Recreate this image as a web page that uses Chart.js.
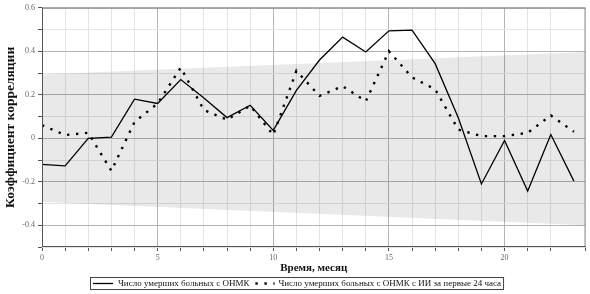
<!DOCTYPE html>
<html>
<head>
<meta charset="utf-8">
<script src="https://cdn.jsdelivr.net/npm/chart.js@4/dist/chart.umd.min.js"></script>
<style>
html,body{margin:0;padding:0;background:#fff;}
#wrap{width:590px;height:294px;position:relative;}
</style>
</head>
<body>
<div id="wrap"><canvas id="c" width="590" height="294"></canvas></div>
<script>
// ---- data ----
const months = [0,1,2,3,4,5,6,7,8,9,10,11,12,13,14,15,16,17,18,19,20,21,22,23];
const deathsStroke = [-0.12,-0.127,0.0,0.005,0.18,0.16,0.27,0.185,0.095,0.152,0.036,0.22,0.36,0.465,0.397,0.494,0.497,0.343,0.094,-0.21,-0.01,-0.243,0.017,-0.197];
const deathsStrokeII24h = [0.06,0.015,0.025,-0.15,0.075,0.16,0.325,0.13,0.085,0.15,0.015,0.31,0.195,0.24,0.17,0.40,0.28,0.225,0.04,0.01,0.01,0.025,0.105,0.03];
const bandX = [0, 23.5];
const bandUpper = [0.293, 0.397];
const bandLower = [-0.293, -0.4];
const seriesLabels = ['Число умерших больных с ОНМК', 'Число умерших больных с ОНМК с ИИ за первые 24 часа'];
const xTitle = 'Время, месяц';
const yTitle = 'Коэффициент корреляции';
const yLabeled = [0.6, 0.4, 0.2, 0, -0.2, -0.4];
const xLabeled = [0, 5, 10, 15, 20];

const toXY = (xs, ys) => xs.map((x, i) => ({x: x, y: ys[i]}));

const SERIF = '"Liberation Serif", "DejaVu Serif", serif';

const decor = {
  id: 'decor',
  afterDatasetsDraw(chart) {
    const ctx = chart.ctx, a = chart.chartArea;
    ctx.save();
    ctx.strokeStyle = '#8c8c8c';
    ctx.lineWidth = 1;
    ctx.beginPath();
    ctx.moveTo(a.left, a.top + 0.5); ctx.lineTo(a.right, a.top + 0.5);
    ctx.moveTo(a.right - 0.5, a.top); ctx.lineTo(a.right - 0.5, a.bottom);
    ctx.stroke();
    ctx.strokeStyle = '#555';
    ctx.beginPath();
    ctx.moveTo(a.left + 0.5, a.top); ctx.lineTo(a.left + 0.5, a.bottom);
    ctx.moveTo(a.left, a.bottom - 0.5); ctx.lineTo(a.right, a.bottom - 0.5);
    ctx.stroke();
    ctx.restore();
  },
  afterDraw(chart) {
    const ctx = chart.ctx, a = chart.chartArea;
    ctx.save();
    ctx.fillStyle = '#111';
    ctx.font = 'bold 11px ' + SERIF;
    ctx.textAlign = 'center';
    ctx.textBaseline = 'middle';
    ctx.fillText(xTitle, (a.left + a.right) / 2, 268);
    ctx.save();
    ctx.font = 'bold 13.5px ' + SERIF;
    ctx.translate(11, (a.top + a.bottom) / 2);
    ctx.rotate(-Math.PI / 2);
    ctx.fillText(yTitle, 0, 0);
    ctx.restore();

    // legend
    const ly = 283.5;
    ctx.font = '9px ' + SERIF;
    ctx.textAlign = 'left';
    ctx.textBaseline = 'middle';
    const x0 = 90;
    let x = x0 + 3;
    ctx.strokeStyle = '#000';
    ctx.lineWidth = 1.3;
    ctx.setLineDash([]);
    ctx.beginPath(); ctx.moveTo(x, ly); ctx.lineTo(x + 20, ly); ctx.stroke();
    x += 25;
    ctx.fillStyle = '#111';
    ctx.fillText(seriesLabels[0], x, ly);
    x += ctx.measureText(seriesLabels[0]).width + 6;
    ctx.fillStyle = '#000';
    ctx.fillRect(x, ly - 1.2, 2.4, 2.4);
    ctx.fillRect(x + 9, ly - 1.2, 2.4, 2.4);
    ctx.fillRect(x + 18, ly - 1.2, 1.2, 2.4);
    x += 23;
    ctx.fillStyle = '#111';
    ctx.fillText(seriesLabels[1], x, ly);
    x += ctx.measureText(seriesLabels[1]).width + 2;
    ctx.strokeStyle = '#444';
    ctx.lineWidth = 1;
    ctx.strokeRect(x0 + 0.5, 277.5, x - x0, 12);
    ctx.restore();
  }
};

new Chart(document.getElementById('c'), {
  type: 'line',
  data: {
    datasets: [
      {
        label: seriesLabels[0],
        data: toXY(months, deathsStroke),
        borderColor: '#000',
        borderWidth: 1.3,
        pointRadius: 0,
        tension: 0,
        fill: false,
        order: 1
      },
      {
        label: seriesLabels[1],
        data: toXY(months, deathsStrokeII24h),
        borderColor: '#000',
        borderWidth: 2.4,
        borderDash: [2.4, 6.6],
        borderCapStyle: 'butt',
        pointRadius: 0,
        tension: 0,
        fill: false,
        order: 2
      },
      {
        label: 'upper',
        data: toXY(bandX, bandUpper),
        borderWidth: 0,
        borderColor: 'rgba(0,0,0,0)',
        backgroundColor: 'rgba(0,0,0,0.085)',
        pointRadius: 0,
        fill: '+1',
        order: 10
      },
      {
        label: 'lower',
        data: toXY(bandX, bandLower),
        borderWidth: 0,
        borderColor: 'rgba(0,0,0,0)',
        pointRadius: 0,
        fill: false,
        order: 11
      }
    ]
  },
  options: {
    responsive: false,
    animation: false,
    events: [],
    layout: { padding: { left: 0, right: 4.5, top: 6.5, bottom: 0 } },
    plugins: { legend: { display: false }, tooltip: { enabled: false } },
    scales: {
      x: {
        type: 'linear',
        min: 0, max: 23.5,
        afterFit(s) { s.height = 47; },
        border: { display: false },
        grid: {
          color: (c) => (c.tick && c.tick.value % 5 === 0) ? '#b4b4b4' : '#e4e4e4',
          tickColor: '#555',
          tickLength: 4,
          drawTicks: true
        },
        ticks: {
          stepSize: 1,
          autoSkip: false,
          maxRotation: 0,
          padding: 2,
          color: '#666',
          font: { family: SERIF, size: 8 },
          callback: (v) => xLabeled.includes(v) ? String(v) : ''
        }
      },
      y: {
        min: -0.5, max: 0.6,
        afterFit(s) { s.width = 42; },
        border: { display: false },
        grid: {
          color: (c) => {
            const v = Math.round(c.tick.value * 10);
            return (v % 2 === 0) ? '#b4b4b4' : '#e4e4e4';
          },
          tickColor: '#555',
          tickLength: 4,
          drawTicks: true
        },
        ticks: {
          stepSize: 0.1,
          autoSkip: false,
          padding: 3,
          color: '#666',
          font: { family: SERIF, size: 8 },
          callback: (v) => {
            const r = Math.round(v * 10) / 10;
            return yLabeled.includes(r) ? String(r) : '';
          }
        }
      }
    }
  },
  plugins: [decor]
});
</script>
</body>
</html>
